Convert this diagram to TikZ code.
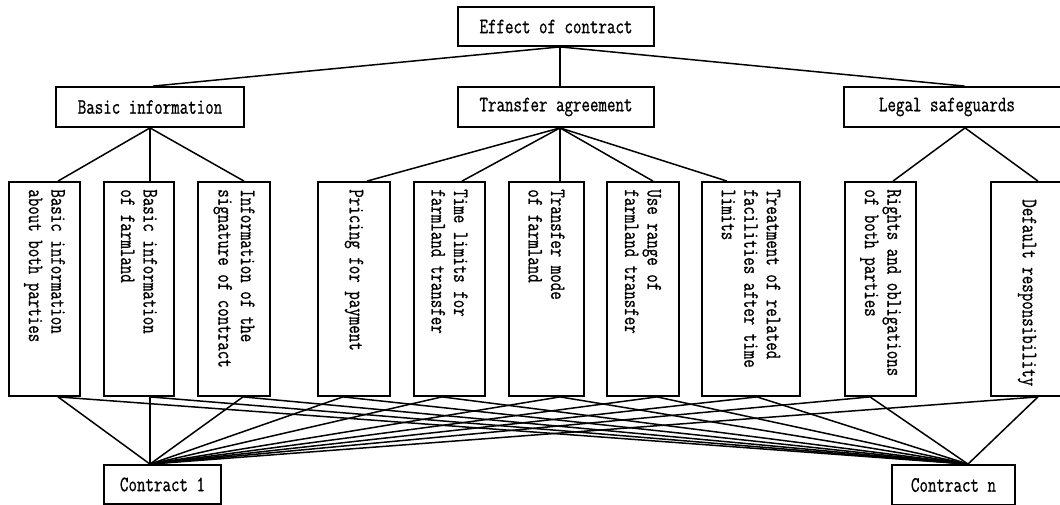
\documentclass[tikz,border=0pt]{standalone}
\usepackage{fontspec}
\setmonofont{Latin Modern Mono}[FakeStretch=0.75, FakeBold=0.8]
\begin{document}
\begin{tikzpicture}[x=1pt,y=-1pt,
  txt/.style={font=\ttfamily\fontsize{22}{22.5}\selectfont},
  box/.style={draw, line width=1.8pt, inner sep=0pt, txt},
  vtext/.style={rotate=-90, anchor=west, align=left, inner sep=0pt, txt},
  conn/.style={line width=1.5pt}]
\useasboundingbox (0,0) rectangle (1060,505);
\clip (0,0) rectangle (1060,505);
% top levels
\node[box, minimum width=196pt, minimum height=39pt] (top) at (556,26.5) {Effect of contract};
\node[box, minimum width=188pt, minimum height=40pt] (basic) at (150,107) {Basic information};
\node[box, minimum width=196pt, minimum height=40pt] (transfer) at (556,107) {Transfer agreement};
\node[box, minimum width=231pt, minimum height=40pt] (legal) at (959.5,107) {Legal safeguards\hspace*{25pt}};
% children
\node[box, minimum width=71pt, minimum height=214pt] (c1) at (44.5,289) {};
\node[box, minimum width=70pt, minimum height=214pt] (c2) at (139,289) {};
\node[box, minimum width=72pt, minimum height=214pt] (c3) at (234,289) {};
\node[box, minimum width=72pt, minimum height=214pt] (c4) at (354,289) {};
\node[box, minimum width=71pt, minimum height=214pt] (c5) at (449.5,289) {};
\node[box, minimum width=75pt, minimum height=214pt] (c6) at (546.5,289) {};
\node[box, minimum width=72pt, minimum height=214pt] (c7) at (643,289) {};
\node[box, minimum width=98pt, minimum height=214pt] (c8) at (751,289) {};
\node[box, minimum width=71pt, minimum height=214pt] (c9) at (880.5,289) {};
\node[box, minimum width=84pt, minimum height=214pt] (c10) at (1033,289) {};
\node[vtext] (t1) at ([yshift=-8pt]c1.north) {Basic information\\about both parties};
\node[vtext] (t2) at ([yshift=-8pt]c2.north) {Basic information\\of farmland};
\node[vtext] (t3) at ([yshift=-8pt]c3.north) {Information of the\\signature of contract};
\node[vtext] (t4) at ([yshift=-8pt]c4.north) {Pricing for payment};
\node[vtext] (t5) at ([yshift=-8pt]c5.north) {Time limits for\\farmland transfer};
\node[vtext] (t6) at ([yshift=-8pt]c6.north) {Transfer mode\\of farmland};
\node[vtext] (t7) at ([yshift=-8pt]c7.north) {Use range of\\farmland transfer};
\node[vtext] (t8) at ([yshift=-8pt]c8.north) {Treatment of related\\facilities after time\\limits};
\node[vtext] (t9) at ([yshift=-8pt]c9.north) {Rights and obligations\\of both parties};
\node[vtext] (t10) at ([xshift=-6pt,yshift=-18pt]c10.north) {Default responsibility};
% contracts
\node[box, minimum width=117pt, minimum height=39pt] (k1) at (162.5,484.5) {Contract 1};
\node[box, minimum width=123pt, minimum height=40pt] (kn) at (953.5,485) {Contract n};
% connectors top
\draw[conn] ([xshift=4]top.south) -- ([xshift=3]basic.north);
\draw[conn] ([xshift=4]top.south) -- ([xshift=4]transfer.north);
\draw[conn] ([xshift=4]top.south) -- ([xshift=5]legal.north);
\foreach \n/\t in {c1/13.5,c2/11,c3/10}
  \draw[conn] (basic.south) -- ([xshift=\t]\n.north);
\foreach \n/\t in {c4/13,c5/12.5,c6/13.5,c7/10,c8/-24}
  \draw[conn] ([xshift=4]transfer.south) -- ([xshift=\t]\n.north);
\foreach \n/\t in {c9/12.5,c10/5}
  \draw[conn] ([xshift=5.5]legal.south) -- ([xshift=\t]\n.north);
% connectors bottom
\foreach \n/\b in {c1/13.5,c2/11,c3/9,c4/-11,c5/-7.5,c6/13.5,c7/14,c8/6,c9/-10.5,c10/5}{
  \draw[conn] ([xshift=\b]\n.south) -- ([xshift=-12.5]k1.north);
  \draw[conn] ([xshift=\b]\n.south) -- ([xshift=14.5]kn.north);
}
\end{tikzpicture}
\end{document}
